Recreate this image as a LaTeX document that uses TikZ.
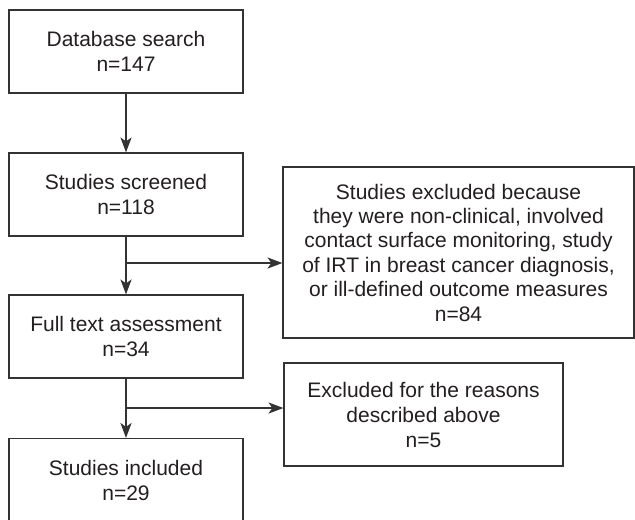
\documentclass[tikz,border=0pt]{standalone}
\usepackage{fontspec}
\setmainfont{Liberation Sans}
\usepackage{tikz}
\usetikzlibrary{arrows.meta}

\definecolor{linegray}{HTML}{333333}
\definecolor{textgray}{HTML}{231F20}

\begin{document}
\begin{tikzpicture}[x=0.5pt, y=-0.5pt,
  stage/.style={rectangle, draw=linegray, line width=0.6pt, fill=white,
    minimum width=117pt, minimum height=41.5pt, align=center,
    inner sep=2pt, text=textgray,
    font=\fontsize{10.5}{12.5}\selectfont},
  %
  excluded/.style={stage, minimum width=175.5pt, minimum height=85.5pt,
    font=\fontsize{10.5}{12.2}\selectfont},
  %
  excludedsmall/.style={stage, minimum width=139.5pt, minimum height=51.5pt},
  %
  flow/.style={draw=linegray, line width=0.6pt,
    -{Stealth[length=7.5pt, width=5.6pt, inset=2pt]}}
  ]

  \useasboundingbox (0,0) rectangle (635,519);

  % main column
  \node [stage] (search) at (126,51.5) {Database search\\n=147};
  \node [stage] (screened) at (126,194.5) {Studies screened\\n=118};
  \node [stage] (fulltext) at (126,336.5) {Full text assessment\\n=34};
  \node [stage] (included) at (126,480) {Studies included\\n=29};

  % exclusions
  \node [excluded] (exclscreen) at (458.5,252.5) {Studies excluded because\\
    they were non-clinical, involved\\
    contact surface monitoring, study\\
    of IRT in breast cancer diagnosis,\\
    or ill-defined outcome measures\\
    n=84};
  \node [excludedsmall] (exclfull) at (423.5,414.5) {Excluded for the reasons\\
    described above\\n=5};

  \coordinate (branchA) at (126,263);
  \coordinate (branchB) at (126,408);

  \draw [flow] (search) -- (screened);
  \draw [flow] (screened) -- (fulltext);
  \draw [flow] (branchA) -- (branchA -| exclscreen.west);
  \draw [flow] (fulltext) -- (included);
  \draw [flow] (branchB) -- (branchB -| exclfull.west);

\end{tikzpicture}
\end{document}
